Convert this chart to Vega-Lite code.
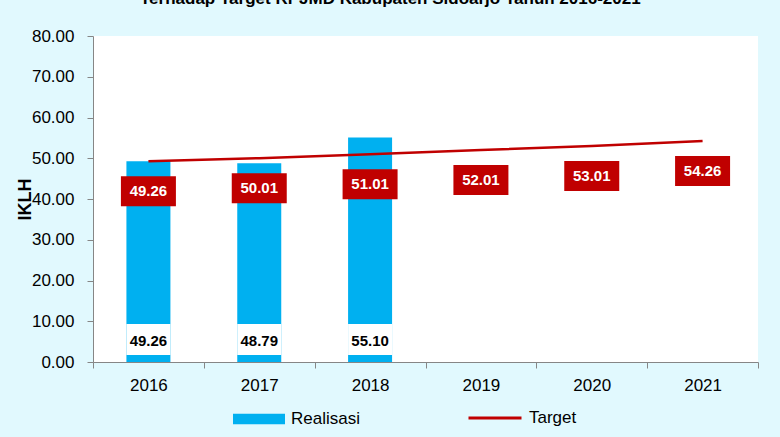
{
  "$schema": "https://vega.github.io/schema/vega-lite/v6.json",
  "width": 665,
  "height": 326,
  "autosize": {"type": "none"},
  "padding": {"left": 93, "top": 36, "right": 22, "bottom": 75},
  "background": "#E1F9FE",
  "config": {
    "view": {"fill": "white", "stroke": null},
    "font": "Liberation Sans"
  },
  "title": {
    "text": "Terhadap Target RPJMD Kabupaten Sidoarjo Tahun 2016-2021",
    "font": "Liberation Sans",
    "fontSize": 17,
    "fontWeight": "bold",
    "color": "black",
    "anchor": "start",
    "frame": "group",
    "baseline": "alphabetic",
    "dx": 47,
    "offset": 6
  },
  "data": {
    "values": [
      {"year": "2016", "realisasi": 49.26, "target": 49.26},
      {"year": "2017", "realisasi": 48.79, "target": 50.01},
      {"year": "2018", "realisasi": 55.10, "target": 51.01},
      {"year": "2019", "realisasi": null, "target": 52.01},
      {"year": "2020", "realisasi": null, "target": 53.01},
      {"year": "2021", "realisasi": null, "target": 54.26}
    ]
  },
  "encoding": {
    "x": {
      "field": "year",
      "type": "nominal",
      "scale": {"paddingInner": 0, "paddingOuter": 0},
      "axis": {
        "title": null,
        "labelAngle": 0,
        "labelFont": "Liberation Sans",
        "labelFontSize": 17,
        "labelColor": "black",
        "labelPadding": 9,
        "tickBand": "extent",
        "tickSize": 6,
        "tickColor": "#868686",
        "domainColor": "#868686",
        "grid": false
      }
    }
  },
  "layer": [
    {
      "mark": {"type": "bar", "width": 44},
      "transform": [{"filter": "isValid(datum.realisasi)"}],
      "encoding": {
        "y": {
          "field": "realisasi",
          "type": "quantitative",
          "scale": {"domain": [0, 80], "nice": false},
          "axis": {
            "title": "IKLH",
            "titleFont": "Liberation Sans",
            "titleFontSize": 18,
            "titleFontWeight": "bold",
            "titleColor": "black",
            "titleAngle": 270,
            "titleAlign": "center",
            "titleBaseline": "middle",
            "titleX": -68,
            "titleY": 163,
            "values": [0, 10, 20, 30, 40, 50, 60, 70, 80],
            "format": ".2f",
            "labelFont": "Liberation Sans",
            "labelFontSize": 17,
            "labelColor": "black",
            "labelPadding": 13,
            "tickSize": 6,
            "tickColor": "#868686",
            "domainColor": "#868686",
            "grid": false
          }
        },
        "fill": {
          "datum": "Realisasi",
          "scale": {"range": ["#00B0F0"]},
          "legend": {
            "title": null,
            "orient": "none",
            "legendX": 140,
            "legendY": 357,
            "padding": 0,
            "symbolType": "M-1,-0.2H1V0.2H-1Z",
            "symbolSize": 2704,
            "symbolStrokeWidth": 0,
            "symbolOpacity": 1,
            "labelFont": "Liberation Sans",
            "labelFontSize": 17,
            "labelColor": "black",
            "labelOffset": 6
          }
        }
      }
    },
    {
      "mark": {"type": "bar", "width": 44, "color": "white"},
      "transform": [{"filter": "isValid(datum.realisasi)"}],
      "encoding": {
        "y": {"datum": 9.3, "type": "quantitative"},
        "y2": {"datum": 1.7}
      }
    },
    {
      "mark": {"type": "text", "fontWeight": "bold", "fontSize": 15, "font": "Liberation Sans", "color": "black", "baseline": "middle"},
      "transform": [{"filter": "isValid(datum.realisasi)"}],
      "encoding": {
        "y": {"datum": 5.2, "type": "quantitative"},
        "text": {"field": "realisasi", "type": "quantitative", "format": ".2f"}
      }
    },
    {
      "mark": {"type": "line", "strokeWidth": 2.5},
      "encoding": {
        "y": {"field": "target", "type": "quantitative"},
        "stroke": {
          "datum": "Target",
          "scale": {"range": ["#C00000"]},
          "legend": {
            "title": null,
            "orient": "none",
            "legendX": 374,
            "legendY": 354,
            "padding": 0,
            "symbolType": "stroke",
            "symbolSize": 2809,
            "symbolStrokeWidth": 3,
            "labelFont": "Liberation Sans",
            "labelFontSize": 17,
            "labelColor": "black",
            "labelOffset": 6
          }
        }
      }
    },
    {
      "mark": {"type": "bar", "width": 55, "color": "#C00000", "yOffset": 15, "y2Offset": 45},
      "encoding": {
        "y": {"field": "target", "type": "quantitative"},
        "y2": {"field": "target"}
      }
    },
    {
      "mark": {"type": "text", "fontWeight": "bold", "fontSize": 15, "font": "Liberation Sans", "color": "white", "baseline": "middle", "dy": 30},
      "encoding": {
        "y": {"field": "target", "type": "quantitative"},
        "text": {"field": "target", "type": "quantitative", "format": ".2f"}
      }
    }
  ]
}
